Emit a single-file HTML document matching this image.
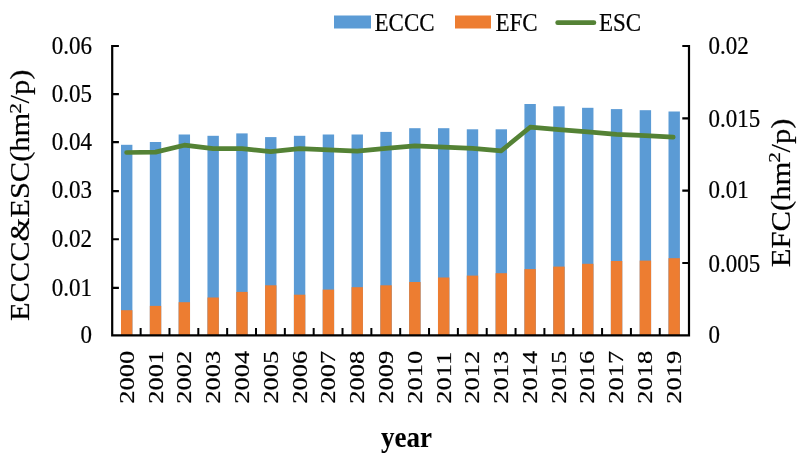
<!DOCTYPE html>
<html><head><meta charset="utf-8"><title>chart</title>
<style>html,body{margin:0;padding:0;background:#fff}svg{display:block;will-change:transform;filter:blur(0.4px)}text{fill:#000;stroke:#000;stroke-width:0.2px;stroke-linejoin:round}</style></head>
<body>
<svg width="802" height="456" viewBox="0 0 802 456">
<rect width="802" height="456" fill="#fff"/>
<rect x="121.00" y="144.80" width="11.4" height="190.50" fill="#5B9BD5"/>
<rect x="149.82" y="142.00" width="11.4" height="193.30" fill="#5B9BD5"/>
<rect x="178.63" y="134.50" width="11.4" height="200.80" fill="#5B9BD5"/>
<rect x="207.45" y="135.80" width="11.4" height="199.50" fill="#5B9BD5"/>
<rect x="236.26" y="133.40" width="11.4" height="201.90" fill="#5B9BD5"/>
<rect x="265.08" y="137.10" width="11.4" height="198.20" fill="#5B9BD5"/>
<rect x="293.90" y="135.80" width="11.4" height="199.50" fill="#5B9BD5"/>
<rect x="322.71" y="134.50" width="11.4" height="200.80" fill="#5B9BD5"/>
<rect x="351.53" y="134.50" width="11.4" height="200.80" fill="#5B9BD5"/>
<rect x="380.34" y="131.90" width="11.4" height="203.40" fill="#5B9BD5"/>
<rect x="409.16" y="128.20" width="11.4" height="207.10" fill="#5B9BD5"/>
<rect x="437.98" y="128.20" width="11.4" height="207.10" fill="#5B9BD5"/>
<rect x="466.79" y="129.30" width="11.4" height="206.00" fill="#5B9BD5"/>
<rect x="495.61" y="129.30" width="11.4" height="206.00" fill="#5B9BD5"/>
<rect x="524.42" y="104.00" width="11.4" height="231.30" fill="#5B9BD5"/>
<rect x="553.24" y="106.30" width="11.4" height="229.00" fill="#5B9BD5"/>
<rect x="582.06" y="107.80" width="11.4" height="227.50" fill="#5B9BD5"/>
<rect x="610.87" y="109.10" width="11.4" height="226.20" fill="#5B9BD5"/>
<rect x="639.69" y="110.20" width="11.4" height="225.10" fill="#5B9BD5"/>
<rect x="668.50" y="111.50" width="11.4" height="223.80" fill="#5B9BD5"/>
<rect x="121.00" y="310.20" width="11.4" height="25.10" fill="#ED7D31"/>
<rect x="149.82" y="305.90" width="11.4" height="29.40" fill="#ED7D31"/>
<rect x="178.63" y="302.20" width="11.4" height="33.10" fill="#ED7D31"/>
<rect x="207.45" y="297.50" width="11.4" height="37.80" fill="#ED7D31"/>
<rect x="236.26" y="291.90" width="11.4" height="43.40" fill="#ED7D31"/>
<rect x="265.08" y="285.30" width="11.4" height="50.00" fill="#ED7D31"/>
<rect x="293.90" y="294.70" width="11.4" height="40.60" fill="#ED7D31"/>
<rect x="322.71" y="289.60" width="11.4" height="45.70" fill="#ED7D31"/>
<rect x="351.53" y="287.20" width="11.4" height="48.10" fill="#ED7D31"/>
<rect x="380.34" y="285.30" width="11.4" height="50.00" fill="#ED7D31"/>
<rect x="409.16" y="282.00" width="11.4" height="53.30" fill="#ED7D31"/>
<rect x="437.98" y="277.50" width="11.4" height="57.80" fill="#ED7D31"/>
<rect x="466.79" y="275.60" width="11.4" height="59.70" fill="#ED7D31"/>
<rect x="495.61" y="273.20" width="11.4" height="62.10" fill="#ED7D31"/>
<rect x="524.42" y="269.10" width="11.4" height="66.20" fill="#ED7D31"/>
<rect x="553.24" y="266.60" width="11.4" height="68.70" fill="#ED7D31"/>
<rect x="582.06" y="263.80" width="11.4" height="71.50" fill="#ED7D31"/>
<rect x="610.87" y="261.00" width="11.4" height="74.30" fill="#ED7D31"/>
<rect x="639.69" y="260.60" width="11.4" height="74.70" fill="#ED7D31"/>
<rect x="668.50" y="258.20" width="11.4" height="77.10" fill="#ED7D31"/>
<polyline points="126.60,152.50 155.52,152.10 184.33,145.20 213.15,148.70 241.96,148.70 270.78,151.70 299.60,148.70 328.41,149.90 357.23,151.20 386.04,148.40 414.86,145.90 443.68,147.10 472.49,148.40 501.31,150.80 530.12,127.20 558.94,129.70 587.76,131.90 616.57,134.40 645.39,135.70 673.20,137.20" fill="none" stroke="#548235" stroke-width="4.7" stroke-linecap="round" stroke-linejoin="round"/>
<path d="M112.2,44.9 V336.40000000000003 M689.0,44.9 V336.40000000000003 M111.10000000000001,335.3 H690.1" stroke="#000" stroke-width="2.2" fill="none"/>
<path d="M112.2,287.88 h6.7 M112.2,239.27 h6.7 M112.2,191.05 h6.7 M112.2,142.03 h6.7 M112.2,94.22 h6.7 M112.2,46.00 h6.7 M689.0,262.98 h-6.7 M689.0,190.65 h-6.7 M689.0,118.32 h-6.7 M689.0,46.00 h-6.7 " stroke="#000" stroke-width="2.2" fill="none"/>
<path d="M140.64,335.3 v-7.2 M169.48,335.3 v-7.2 M198.32,335.3 v-7.2 M227.16,335.3 v-7.2 M256.00,335.3 v-7.2 M284.84,335.3 v-7.2 M313.68,335.3 v-7.2 M342.52,335.3 v-7.2 M371.36,335.3 v-7.2 M400.20,335.3 v-7.2 M429.04,335.3 v-7.2 M457.88,335.3 v-7.2 M486.72,335.3 v-7.2 M515.56,335.3 v-7.2 M544.40,335.3 v-7.2 M573.24,335.3 v-7.2 M602.08,335.3 v-7.2 M630.92,335.3 v-7.2 M659.76,335.3 v-7.2 " stroke="#000" stroke-width="2" fill="none"/>
<text transform="translate(92,343.40) scale(1,1.09)" text-anchor="end" font-family="Liberation Serif, serif" font-size="23">0</text>
<text transform="translate(92,296.08) scale(1,1.09)" text-anchor="end" font-family="Liberation Serif, serif" font-size="23">0.01</text>
<text transform="translate(92,246.97) scale(1,1.09)" text-anchor="end" font-family="Liberation Serif, serif" font-size="23">0.02</text>
<text transform="translate(92,198.25) scale(1,1.09)" text-anchor="end" font-family="Liberation Serif, serif" font-size="23">0.03</text>
<text transform="translate(92,149.53) scale(1,1.09)" text-anchor="end" font-family="Liberation Serif, serif" font-size="23">0.04</text>
<text transform="translate(92,102.32) scale(1,1.09)" text-anchor="end" font-family="Liberation Serif, serif" font-size="23">0.05</text>
<text transform="translate(92,54.10) scale(1,1.09)" text-anchor="end" font-family="Liberation Serif, serif" font-size="23">0.06</text>
<text transform="translate(708.4,343.40) scale(1,1.09)" font-family="Liberation Serif, serif" font-size="23">0</text>
<text transform="translate(708.4,271.88) scale(1,1.09)" font-family="Liberation Serif, serif" font-size="23">0.005</text>
<text transform="translate(708.4,198.35) scale(1,1.09)" font-family="Liberation Serif, serif" font-size="23">0.01</text>
<text transform="translate(708.4,127.02) scale(1,1.09)" font-family="Liberation Serif, serif" font-size="23">0.015</text>
<text transform="translate(708.4,53.90) scale(1,1.09)" font-family="Liberation Serif, serif" font-size="23">0.02</text>
<text transform="translate(133.92,403.7) rotate(-90) scale(1.24,1)" font-family="Liberation Serif, serif" font-size="21.4">2000</text>
<text transform="translate(162.70,403.7) rotate(-90) scale(1.24,1)" font-family="Liberation Serif, serif" font-size="21.4">2001</text>
<text transform="translate(191.48,403.7) rotate(-90) scale(1.24,1)" font-family="Liberation Serif, serif" font-size="21.4">2002</text>
<text transform="translate(220.26,403.7) rotate(-90) scale(1.24,1)" font-family="Liberation Serif, serif" font-size="21.4">2003</text>
<text transform="translate(249.04,403.7) rotate(-90) scale(1.24,1)" font-family="Liberation Serif, serif" font-size="21.4">2004</text>
<text transform="translate(277.82,403.7) rotate(-90) scale(1.24,1)" font-family="Liberation Serif, serif" font-size="21.4">2005</text>
<text transform="translate(306.60,403.7) rotate(-90) scale(1.24,1)" font-family="Liberation Serif, serif" font-size="21.4">2006</text>
<text transform="translate(335.38,403.7) rotate(-90) scale(1.24,1)" font-family="Liberation Serif, serif" font-size="21.4">2007</text>
<text transform="translate(364.16,403.7) rotate(-90) scale(1.24,1)" font-family="Liberation Serif, serif" font-size="21.4">2008</text>
<text transform="translate(392.94,403.7) rotate(-90) scale(1.24,1)" font-family="Liberation Serif, serif" font-size="21.4">2009</text>
<text transform="translate(421.72,403.7) rotate(-90) scale(1.24,1)" font-family="Liberation Serif, serif" font-size="21.4">2010</text>
<text transform="translate(450.50,403.7) rotate(-90) scale(1.24,1)" font-family="Liberation Serif, serif" font-size="21.4">2011</text>
<text transform="translate(479.28,403.7) rotate(-90) scale(1.24,1)" font-family="Liberation Serif, serif" font-size="21.4">2012</text>
<text transform="translate(508.06,403.7) rotate(-90) scale(1.24,1)" font-family="Liberation Serif, serif" font-size="21.4">2013</text>
<text transform="translate(536.84,403.7) rotate(-90) scale(1.24,1)" font-family="Liberation Serif, serif" font-size="21.4">2014</text>
<text transform="translate(565.62,403.7) rotate(-90) scale(1.24,1)" font-family="Liberation Serif, serif" font-size="21.4">2015</text>
<text transform="translate(594.40,403.7) rotate(-90) scale(1.24,1)" font-family="Liberation Serif, serif" font-size="21.4">2016</text>
<text transform="translate(623.18,403.7) rotate(-90) scale(1.24,1)" font-family="Liberation Serif, serif" font-size="21.4">2017</text>
<text transform="translate(651.96,403.7) rotate(-90) scale(1.24,1)" font-family="Liberation Serif, serif" font-size="21.4">2018</text>
<text transform="translate(680.74,403.7) rotate(-90) scale(1.24,1)" font-family="Liberation Serif, serif" font-size="21.4">2019</text>
<rect x="334" y="15.5" width="37" height="13" fill="#5B9BD5"/>
<text transform="translate(374.5,30.7) scale(1,1.09)" font-family="Liberation Serif, serif" font-size="23">ECCC</text>
<rect x="455" y="15.5" width="36" height="13" fill="#ED7D31"/>
<text transform="translate(495.5,30.7) scale(1,1.09)" font-family="Liberation Serif, serif" font-size="23">EFC</text>
<path d="M557.7,22.7 H593.9" stroke="#548235" stroke-width="4.8" stroke-linecap="round"/>
<text transform="translate(599,30.7) scale(1,1.09)" font-family="Liberation Serif, serif" font-size="23">ESC</text>
<text transform="translate(28.6,321.1) rotate(-90) scale(1.09,1)" font-family="Liberation Serif, serif" font-size="28">ECCC&amp;ESC(hm<tspan dx="8.5">/p)</tspan></text>
<text transform="translate(21.0,113.70) rotate(-90) scale(1.25,1)" font-family="Liberation Serif, serif" font-size="17">2</text>
<text transform="translate(789.5,267.2) rotate(-90) scale(1.094,1)" font-family="Liberation Serif, serif" font-size="28">EFC(hm<tspan dx="8.5">/p)</tspan></text>
<text transform="translate(779.5,162.87) rotate(-90) scale(1.25,1)" font-family="Liberation Serif, serif" font-size="17">2</text>
<text transform="translate(406.5,447.2) scale(1,1.09)" text-anchor="middle" font-family="Liberation Serif, serif" font-weight="bold" font-size="27" style="stroke-width:0.05px">year</text>
</svg>
</body></html>
